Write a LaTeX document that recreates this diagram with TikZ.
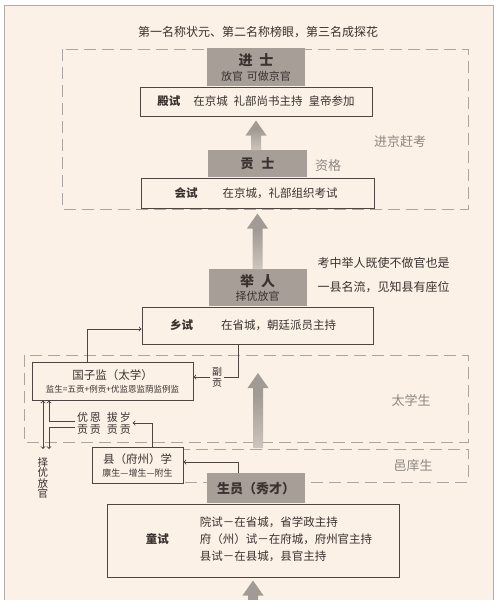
\documentclass[tikz,border=0pt]{standalone}
\usepackage{fontspec}
\setmainfont{Noto Sans CJK SC}
\usepackage{xcolor}
\usepackage{tikz}
\usetikzlibrary{calc, arrows, positioning}
\definecolor{cream}{HTML}{FBF1E7}
\definecolor{framegray}{HTML}{B3ADA9}
\definecolor{boxgray}{HTML}{A79E98}
\definecolor{boxline}{HTML}{4F4642}
\definecolor{dashgray}{HTML}{ABA5A1}
\definecolor{arrowgray}{HTML}{A29A94}
\definecolor{notegray}{HTML}{8E8783}
\definecolor{inkdark}{HTML}{3A322F}
\pgfdeclareverticalshading{arrowfade}{100bp}{color(0bp)=(cream); color(28bp)=(arrowgray!55!cream);
  color(60bp)=(arrowgray); color(100bp)=(arrowgray)}
\tikzset{
    testnode/.style = {draw=boxline, fill=cream, rectangle, line width=1pt, inner sep=0pt, 
      text=inkdark, font=\fontsize{11.5}{13}\selectfont},
    graynode/.style = {draw=none, fill=boxgray, rectangle, inner sep=0pt, text=inkdark, align=center},
    textnode/.style = {draw=none, fill=none, rectangle, inner sep=1.5pt, text=inkdark, align=center},
    sidenode/.style = {draw=none, fill=none, inner sep=0pt, text=notegray, font=\fontsize{13}{15}\selectfont},
    dashbox/.style = {draw=dashgray, line width=1pt, dash pattern=on 12pt off 6pt},
    connect/.style = {draw=boxline, line width=0.9pt, ->},
    fadearrow/.style = {shading=arrowfade},
    solidarrow/.style = {fill=arrowgray},
    every text node part/.style={align=center}
}
\newcommand{\thickup}[3][fadearrow]{%
  \path[#1] let \p1=(#2), \p2=(#3) in
    (\x2-5pt,\y1) -- (\x2-5pt,\y2-15pt) -- (\x2-10.5pt,\y2-15pt) -- (\x2,\y2)
    -- (\x2+10.5pt,\y2-15pt) -- (\x2+5pt,\y2-15pt) -- (\x2+5pt,\y1) -- cycle;}

\begin{document}
\begin{tikzpicture}[x=1pt, y=-1pt]
    \useasboundingbox (0,0) rectangle (501,600);
    \fill[white] (0,0) rectangle (501,600);
    \draw[framegray, fill=cream, line width=0.8pt] (4.5,5.5) rectangle (493,620);
    \draw[dashbox] (62,49) rectangle (468,209);
    \draw[dashbox] (24,355) rectangle (468,442);
    \draw[dashbox] (92,449) rectangle (468,482);

    \node[textnode, name=T, font=\fontsize{12}{14}\selectfont] at (258,32) {第一名称状元、第二名称榜眼，第三名成探花};

    \node[testnode, name=DS, minimum width=232pt, minimum height=29pt] at (256,101.5) 
      {{\bfseries 殿试}\hspace{13pt}在京城\hspace{6pt}礼部尚书主持\hspace{6pt}皇帝参加};
    \node[graynode, name=JS, minimum width=98pt, minimum height=38pt, above=0pt of DS] 
      {{\bfseries\fontsize{14}{16}\selectfont 进\hspace{0.5em}士}\\[3pt]{\fontsize{11}{13}\selectfont 放官\hspace{4pt}可做京官}};
    \node[testnode, name=HS, minimum width=233pt, minimum height=30pt] at (257.5,193) 
      {{\bfseries 会试}\hspace{25pt}在京城，礼部组织考试\hspace{3pt}};
    \node[graynode, name=GS, minimum width=99pt, minimum height=27pt, above=0pt of HS] 
      {\bfseries\fontsize{13}{15}\selectfont 贡\hspace{0.6em}士};
    \node[testnode, name=XS, minimum width=231pt, minimum height=37pt] at (257.5,325.5) 
      {{\bfseries 乡试}\hspace{28pt}在省城，朝廷派员主持\hspace{9pt}};
    \node[graynode, name=JR, minimum width=98pt, minimum height=37pt, above=0pt of XS] 
      {{\bfseries\fontsize{14}{16}\selectfont 举\hspace{0.5em}人}\\[2pt]{\fontsize{11}{13}\selectfont 择优放官}};
    \node[testnode, name=GZJ, minimum width=161pt, minimum height=38pt] at (112.5,381) 
      {国子监（太学）\\[0pt]{\fontsize{8.5}{10}\selectfont 监生=五贡+例贡+优监恩监荫监例监}};
    \node[testnode, name=XX, minimum width=91pt, minimum height=36pt] at (137.5,465) 
      {县（府州）学\\[0pt]{\fontsize{9}{10}\selectfont 廪生—增生—附生}};
    \node[testnode, name=TS, minimum width=292pt, minimum height=73pt] at (253,540.5) 
      {\hspace{12pt}{\bfseries 童试}\hspace{31pt}\begin{tabular}{@{}l@{}}
        院试－在省城，省学政主持\\[3pt] 府（州）试－在府城，府州官主持\\[3pt] 县试－在县城，县官主持\end{tabular}};
    \node[graynode, name=SY, minimum width=98pt, minimum height=30pt, above=0pt of TS, xshift=3pt] 
      {\bfseries\fontsize{13}{15}\selectfont 生员（秀才）};

    \node[sidenode, name=JK] at (400,142) {进京赶考};
    \node[sidenode, name=ZG] at (328,166) {资格};
    \node[sidenode, name=TX] at (411,401) {太学生};
    \node[sidenode, name=YX] at (413,466) {邑庠生};
    \node[textnode, name=N, anchor=west, align=left, font=\fontsize{12}{24}\selectfont] at (316,275) 
      {考中举人既使不做官也是\\一县名流，见知县有座位};
    \node[textnode, name=FG, font=\fontsize{10}{11}\selectfont] at (217,377) {副\\贡};
    \node[textnode, name=YE, font=\fontsize{11}{12}\selectfont] at (104,423) 
      {优\hspace{2pt}恩\hspace{6pt}拔\hspace{2pt}岁\\贡\hspace{2pt}贡\hspace{6pt}贡\hspace{2pt}贡};
    \node[textnode, name=ZY, font=\fontsize{10.5}{10.5}\selectfont] at (43,478) {择\\优\\放\\官};

    \coordinate (ZA) at (43,449);
    \coordinate (ZB) at (49,449);
    \coordinate (TA) at (258,448);
    \coordinate (TB) at (258,373);
    \coordinate (BA) at (258,610);

    \thickup{GS.north}{[yshift=-4pt]DS.south}
    \thickup{JR.north}{[yshift=-5pt]HS.south}
    \thickup{TA}{TB}
    \thickup[solidarrow]{BA}{[yshift=-3pt]TS.south}

    \draw[connect] ([xshift=-25.5pt]GZJ.north) |- ([yshift=-3.5pt]XS.west);
    \draw[boxline, line width=0.9pt] ([xshift=-19.5pt]XS.south) |- (FG.east);
    \draw[connect] (FG.west) -- (FG.west -| GZJ.east);
    \draw[connect] ([xshift=-18pt]SY.north) |- ([yshift=3pt]XX.east);
    \draw[connect] ([xshift=14.5pt]XX.north) |- (YE.east);
    \draw[connect] ([yshift=2pt]YE.west) -| (GZJ.south -| ZB);
    \draw[connect] ([yshift=-4pt]YE.west) -| (ZB);
    \draw[connect, <->] (GZJ.south -| ZA) -- (ZA);
\end{tikzpicture}
\end{document}
